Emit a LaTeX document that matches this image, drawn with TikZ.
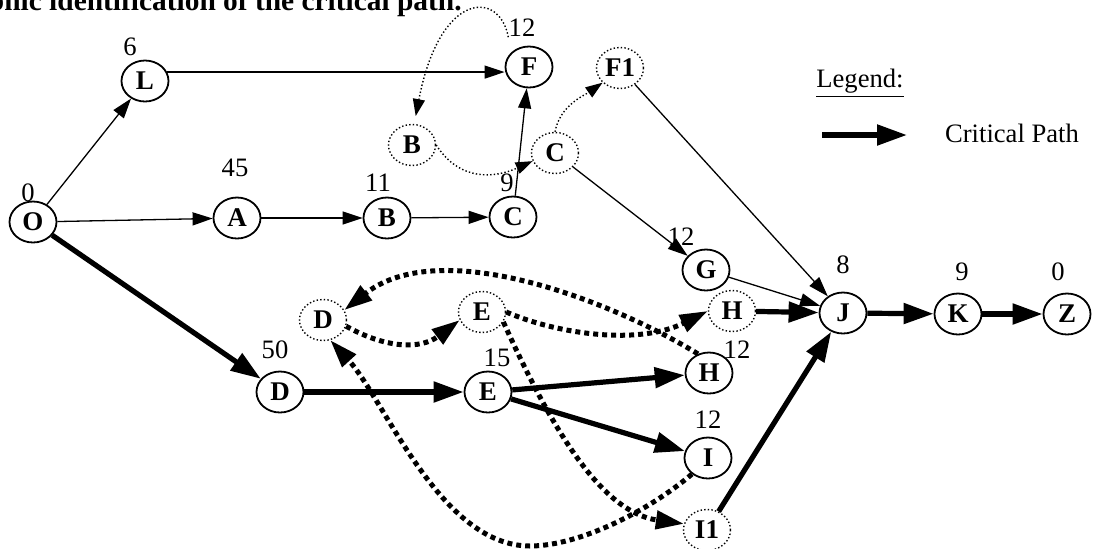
\documentclass[tikz,border=0pt]{standalone}
\usepackage{fontspec}
\setmainfont{Liberation Serif}
\usetikzlibrary{shapes.geometric,arrows.meta}

\tikzset{
  ev/.style={draw, ellipse, line width=0.9pt, inner sep=0pt, minimum width=23.5pt, minimum height=20.5pt, font=\bfseries\fontsize{13.5}{15}\selectfont},
  evdot/.style={ev, line width=0.7pt, dash pattern=on 0.7pt off 1.1pt},
  num/.style={inner sep=0pt, font=\fontsize{13.3}{15}\selectfont},
  act/.style={line width=0.65pt, -{Triangle[length=10pt,width=6.5pt]}},
  crit/.style={line width=2.6pt, -{Triangle[length=15pt,width=10pt]}},
  dum/.style={line width=0.7pt, dash pattern=on 0.7pt off 1.1pt, -{Triangle[length=8.5pt,width=6pt]}},
  dumcrit/.style={line width=2.5pt, dash pattern=on 2.5pt off 2pt, -{Triangle[length=14pt,width=9pt]}}
}

\begin{document}
\begin{tikzpicture}[x=0.5pt,y=-0.5pt]
        \useasboundingbox (0,0) rectangle (1094,548);
        \clip (0,0) rectangle (1094,548);

        \node[inner sep=0pt, anchor=base east, font=\bfseries\fontsize{14.7}{17}\selectfont] (title) at (462,10) {Graphic identification of the critical path.};

        \node[ev] (O) at (33,222) {O};
        \node[ev] (L) at (145,81) {L};
        \node[ev] (A) at (237,218) {A};
        \node[ev] (B) at (387,218) {B};
        \node[ev] (C) at (513,217) {C};
        \node[ev] (F) at (529,67) {F};
        \node[evdot] (F1) at (620,68) {F1};
        \node[evdot] (Bd) at (412,145) {B};
        \node[evdot] (Cd) at (555,153) {C};
        \node[ev] (G) at (706,270) {G};
        \node[evdot] (Hd) at (732,311) {H};
        \node[ev] (J) at (843,313) {J};
        \node[ev] (K) at (958,314) {K};
        \node[ev] (Z) at (1067,314) {Z};
        \node[ev] (H) at (709,373) {H};
        \node[ev] (I) at (708,458) {I};
        \node[evdot] (I1) at (707,530) {I1};
        \node[evdot] (Dd) at (323,320) {D};
        \node[evdot] (Ed) at (482,312) {E};
        \node[ev] (D) at (280,392) {D};
        \node[ev] (E) at (488,392) {E};

        \node[num] (nO) at (28,193) {0};
        \node[num] (nL) at (130,47) {6};
        \node[num] (nA) at (235,168) {45};
        \node[num] (nB) at (378,183) {11};
        \node[num] (nC) at (507,183) {9};
        \node[num] (nF) at (522,28) {12};
        \node[num] (nG) at (681,237) {12};
        \node[num] (nJ) at (843,265) {8};
        \node[num] (nK) at (962,272) {9};
        \node[num] (nZ) at (1058,272) {0};
        \node[num] (nD) at (275,350) {50};
        \node[num] (nE) at (497,358) {15};
        \node[num] (nH) at (737,350) {12};
        \node[num] (nI) at (708,420) {12};

        \node[font=\fontsize{13.3}{16}\selectfont] (legend) at (860,83) {\underline{Legend:}};
        \coordinate (lgA) at (822,135);
        \coordinate (lgB) at (907,135);
        \node[font=\fontsize{13.3}{16}\selectfont] (lgtext) at (1012,133) {Critical Path};
        \coordinate (bot) at (530,546);

        \draw[act] (O) -- (L);
        \draw[act] (O) -- (A);
        \draw[act] (L.22) -- (L.22 -| F.west);
        \draw[act] (A) -- (B);
        \draw[act] (B) -- (C);
        \draw[act] (C) -- (F);
        \draw[act] (Cd) -- (G);
        \draw[act] (F1) -- (J);
        \draw[act] (G) -- (J);

        \draw[crit] (O) -- (D);
        \draw[crit] (D) -- (E);
        \draw[crit] (E) -- (H);
        \draw[crit] (E) -- (I);
        \draw[crit] (I1) -- (J);
        \draw[crit] (Hd) -- (J);
        \draw[crit] (J) -- (K);
        \draw[crit] (K) -- (Z);
        \draw[crit] (lgA) -- (lgB);

        \draw[dum] (nF.south west) .. controls (500,-10) and (440,-10) .. ([yshift=4pt]Bd.80);
        \draw[dum] (Bd.east) .. controls (460,182) and (495,178) .. (Cd.200);
        \draw[dum] (Cd.north) .. controls (560,105) and (585,95) .. (F1.220);

        \draw[dumcrit] (Dd.-15) .. controls (385,348) and (420,350) .. (Ed.200);
        \draw[dumcrit] (H.120) .. controls (610,300) and (440,235) .. (Dd.25);
        \draw[dumcrit] (Ed.east) .. controls (560,335) and (640,345) .. (Hd.west);
        \draw[dumcrit] (Ed.-25) .. controls (550,425) and (600,512) .. (I1.165);
        \draw[dumcrit] (I.225) .. controls (650,510) and (580,546) .. (bot) .. controls (440,546) and (385,400) .. (Dd.-70);
    \end{tikzpicture}
\end{document}
